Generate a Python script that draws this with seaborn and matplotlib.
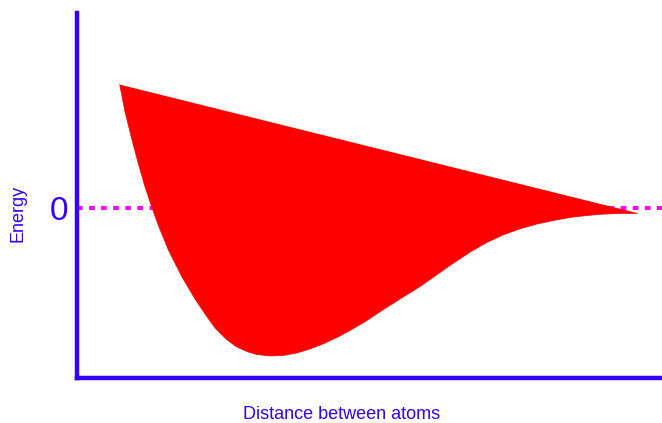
import numpy as np
import pandas as pd
import seaborn as sns
import matplotlib.pyplot as plt

# potential energy curve (distance, energy)
distance = [0.738, 0.828, 0.943, 1.056, 1.170, 1.284, 1.397, 1.568, 1.797, 2.024,
            2.195, 2.366, 2.553, 2.724, 2.907, 3.078, 3.305, 3.527, 3.766, 3.988,
            4.210, 4.449, 4.671, 4.893, 5.013, 5.298, 5.582, 5.867, 6.152, 6.436,
            6.721, 7.006, 7.290, 7.575, 7.860, 8.144, 8.429, 8.714, 8.998, 9.283,
            9.590]
energy = [1.235, 0.965, 0.695, 0.445, 0.215, 0.015, -0.170, -0.415, -0.682, -0.905,
          -1.055, -1.195, -1.305, -1.380, -1.430, -1.460, -1.475, -1.470, -1.445, -1.405,
          -1.355, -1.290, -1.220, -1.145, -1.100, -0.990, -0.885, -0.782, -0.665, -0.548,
          -0.438, -0.342, -0.265, -0.205, -0.158, -0.122, -0.092, -0.072, -0.058, -0.052,
          -0.050]
ytick_vals = [0]
ytick_labels = ['0']

blue = '#3300ff'

sns.set_style('white')
plt.rcParams['font.family'] = ['Liberation Sans', 'DejaVu Sans']

df = pd.DataFrame({'distance': distance, 'energy': energy})

fig = plt.figure(figsize=(6.62, 4.23), dpi=100)
ax = fig.add_axes([76.5 / 662, 45.5 / 423, 585.5 / 662, 364.5 / 423])

# zero level, behind the curve
ax.axhline(0, color='#ff00ff', lw=2.9, ls=(0, (1.4, 1.6)), zorder=1)

# closed shape: curve plus the straight edge back to the start
ax.fill(df['distance'], df['energy'], color='red', lw=0, zorder=3)
sns.lineplot(data=df, x='distance', y='energy', sort=False, color='red',
             lw=0.5, ax=ax, zorder=3)

ax.set_xlim(0, 10)
ax.set_ylim(-1.69, 1.95)
ax.set_xticks([])
ax.set_yticks(ytick_vals)
ax.set_yticklabels(ytick_labels, fontsize=24, color=blue)
ax.tick_params(axis='y', length=0, pad=6)
ax.set_xlabel('')
ax.set_ylabel('')

for side in ['top', 'right']:
    ax.spines[side].set_visible(False)
for side in ['left', 'bottom']:
    ax.spines[side].set_color(blue)
    ax.spines[side].set_linewidth(3.2)
    ax.spines[side].set_capstyle('projecting')

fig.text(17.5 / 662, 1 - 213 / 423, 'Energy', rotation=90, ha='center',
         va='center', fontsize=13, color=blue)
fig.text(342 / 662, 1 - 419 / 423, 'Distance between atoms', ha='center',
         va='baseline', fontsize=13, color=blue)

fig.savefig('out.png', dpi=100)
